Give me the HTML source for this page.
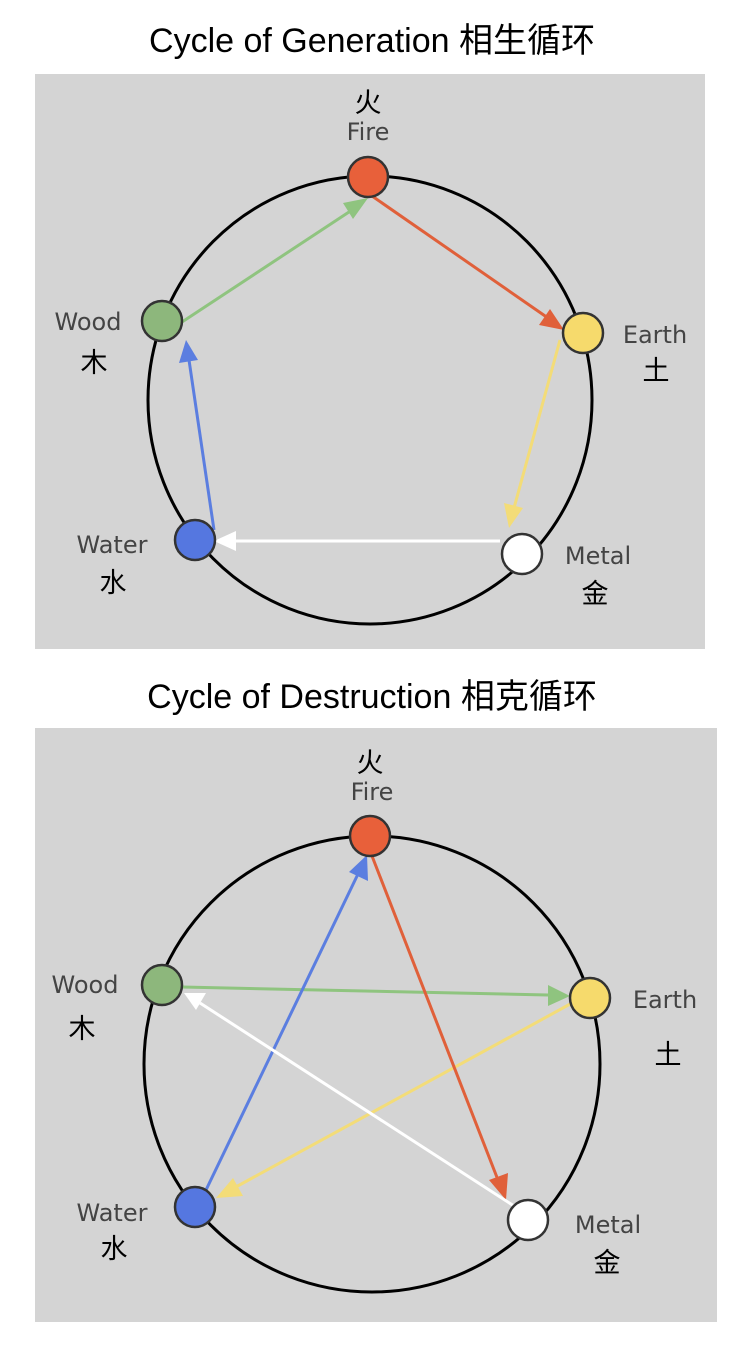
<!DOCTYPE html>
<html><head><meta charset="utf-8"><style>
html,body{margin:0;padding:0;background:#fff;}
svg{display:block;}
.t{font-family:"Liberation Sans","Noto Sans CJK SC",sans-serif;font-size:34px;fill:#000;}
.l{font-family:"DejaVu Sans","Liberation Sans",sans-serif;font-size:24px;fill:#444;}
.c{font-family:"Liberation Sans","Noto Sans CJK SC",sans-serif;font-size:27px;fill:#000;}
</style></head><body>
<svg width="745" height="1347" viewBox="0 0 745 1347" xmlns="http://www.w3.org/2000/svg">
<defs>
<marker id="mg" markerWidth="10" markerHeight="8" refX="9" refY="4" orient="auto" markerUnits="userSpaceOnUse" viewBox="0 0 10 8"><path d="M0,0 L10,4 L0,8z" fill="#8fc47f"/></marker>
</defs>
<text class="t" x="372" y="52" text-anchor="middle">Cycle of Generation 相生循环</text>
<rect x="35" y="74" width="670" height="575" fill="#d4d4d4"/>
<ellipse cx="370" cy="400" rx="222" ry="224" fill="none" stroke="#000" stroke-width="3"/>
<!-- arrows top -->
<g stroke-width="3">
<line x1="182" y1="322" x2="352" y2="210" stroke="#8fc47f"/>
<polygon points="368,198 343,203 353,219" fill="#8fc47f"/>
<line x1="372" y1="196" x2="548" y2="318" stroke="#e0603a"/>
<polygon points="564,330 539,325 550,309" fill="#e0603a"/>
<line x1="560" y1="340" x2="514" y2="508" stroke="#f3dc78"/>
<polygon points="509,528 504,503 523,508" fill="#f3dc78"/>
<line x1="500" y1="541" x2="232" y2="541" stroke="#fff"/>
<polygon points="214,541 236,531 236,551" fill="#fff"/>
<line x1="214" y1="530" x2="189" y2="360" stroke="#5b7ee0"/>
<polygon points="186,340 179,363 198,360" fill="#5b7ee0"/>
</g>
<g stroke="#333" stroke-width="2.5">
<circle cx="368" cy="177" r="20" fill="#e8603a"/>
<circle cx="162" cy="321" r="20" fill="#8db77c"/>
<circle cx="583" cy="333" r="20" fill="#f6da6c"/>
<circle cx="522" cy="554" r="20" fill="#fff"/>
<circle cx="195" cy="540" r="20" fill="#5577e0"/>
</g>
<text class="c" x="368" y="112" text-anchor="middle">火</text>
<text class="l" x="368" y="140" text-anchor="middle">Fire</text>
<text class="l" x="88" y="330" text-anchor="middle">Wood</text>
<text class="c" x="94" y="372" text-anchor="middle">木</text>
<text class="l" x="655" y="343" text-anchor="middle">Earth</text>
<text class="c" x="656" y="380" text-anchor="middle">土</text>
<text class="l" x="598" y="564" text-anchor="middle">Metal</text>
<text class="c" x="595" y="603" text-anchor="middle">金</text>
<text class="l" x="112" y="553" text-anchor="middle">Water</text>
<text class="c" x="113" y="592" text-anchor="middle">水</text>

<text class="t" x="372" y="708" text-anchor="middle">Cycle of Destruction 相克循环</text>
<rect x="35" y="728" width="682" height="594" fill="#d4d4d4"/>
<ellipse cx="372" cy="1064" rx="228" ry="228" fill="none" stroke="#000" stroke-width="3"/>
<g stroke-width="3">
<line x1="182" y1="987" x2="548" y2="995" stroke="#8fc47f"/>
<polygon points="570,996 548,985 548,1006" fill="#8fc47f"/>
<line x1="572" y1="1003" x2="234" y2="1188" stroke="#f3dc78"/>
<polygon points="216,1198 233,1178 243,1196" fill="#f3dc78"/>
<line x1="206" y1="1190" x2="358" y2="874" stroke="#5b7ee0"/>
<polygon points="367,855 349,872 368,881" fill="#5b7ee0"/>
<line x1="372" y1="856" x2="498" y2="1180" stroke="#e0603a"/>
<polygon points="506,1200 489,1180 508,1173" fill="#e0603a"/>
<line x1="514" y1="1206" x2="200" y2="1003" stroke="#fff"/>
<polygon points="184,993 206,993 196,1010" fill="#fff"/>
</g>
<g stroke="#333" stroke-width="2.5">
<circle cx="370" cy="836" r="20" fill="#e8603a"/>
<circle cx="162" cy="985" r="20" fill="#8db77c"/>
<circle cx="590" cy="998" r="20" fill="#f6da6c"/>
<circle cx="528" cy="1220" r="20" fill="#fff"/>
<circle cx="195" cy="1207" r="20" fill="#5577e0"/>
</g>
<text class="c" x="370" y="772" text-anchor="middle">火</text>
<text class="l" x="372" y="800" text-anchor="middle">Fire</text>
<text class="l" x="85" y="993" text-anchor="middle">Wood</text>
<text class="c" x="82" y="1038" text-anchor="middle">木</text>
<text class="l" x="665" y="1008" text-anchor="middle">Earth</text>
<text class="c" x="668" y="1064" text-anchor="middle">土</text>
<text class="l" x="608" y="1233" text-anchor="middle">Metal</text>
<text class="c" x="607" y="1272" text-anchor="middle">金</text>
<text class="l" x="112" y="1221" text-anchor="middle">Water</text>
<text class="c" x="114" y="1258" text-anchor="middle">水</text>
</svg>
</body></html>
